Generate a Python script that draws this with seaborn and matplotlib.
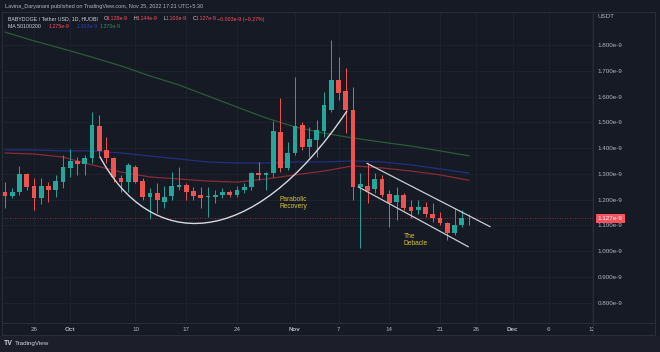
import numpy as np
import pandas as pd
import seaborn as sns
import matplotlib.pyplot as plt
import matplotlib.dates as mdates
from matplotlib.path import Path
from matplotlib.patches import PathPatch, Rectangle
from matplotlib.lines import Line2D
from matplotlib.transforms import Bbox, TransformedBbox, blended_transform_factory

# daily candles, BABYDOGE/USDT, prices in 1e-9 USDT
dates = pd.date_range("2022-09-22", "2022-11-25", freq="D")
opens = [1.228, 1.215, 1.228, 1.298, 1.253, 1.205, 1.253, 1.237, 1.270, 1.324,
         1.350, 1.337, 1.360, 1.486, 1.393, 1.360, 1.283, 1.270, 1.328, 1.274,
         1.209, 1.224, 1.192, 1.214, 1.250, 1.257, 1.233, 1.218, 1.209, 1.211,
         1.218, 1.228, 1.218, 1.237, 1.250, 1.302, 1.297, 1.302, 1.461, 1.322,
         1.380, 1.490, 1.403, 1.431, 1.468, 1.548, 1.664, 1.623, 1.548, 1.248,
         1.253, 1.240, 1.279, 1.220, 1.192, 1.218, 1.170, 1.159, 1.172, 1.146,
         1.127, 1.108, 1.072, 1.102, 1.128]
highs = [1.267, 1.244, 1.331, 1.305, 1.283, 1.283, 1.270, 1.296, 1.373, 1.395,
         1.367, 1.373, 1.541, 1.528, 1.444, 1.367, 1.296, 1.341, 1.335, 1.283,
         1.244, 1.266, 1.253, 1.309, 1.326, 1.263, 1.250, 1.250, 1.250, 1.237,
         1.244, 1.237, 1.253, 1.263, 1.309, 1.347, 1.309, 1.506, 1.593, 1.424,
         1.677, 1.502, 1.483, 1.509, 1.618, 1.819, 1.755, 1.710, 1.638, 1.302,
         1.341, 1.302, 1.296, 1.237, 1.250, 1.224, 1.198, 1.198, 1.192, 1.185,
         1.153, 1.114, 1.166, 1.159, 1.144]
lows = [1.166, 1.205, 1.218, 1.237, 1.159, 1.183, 1.192, 1.211, 1.244, 1.289,
        1.296, 1.296, 1.341, 1.367, 1.341, 1.270, 1.231, 1.231, 1.263, 1.198,
        1.123, 1.149, 1.166, 1.198, 1.237, 1.198, 1.198, 1.166, 1.133, 1.185,
        1.205, 1.209, 1.209, 1.224, 1.237, 1.276, 1.237, 1.289, 1.309, 1.315,
        1.373, 1.393, 1.367, 1.367, 1.444, 1.541, 1.587, 1.457, 1.198, 1.011,
        1.185, 1.224, 1.211, 1.095, 1.121, 1.159, 1.127, 1.146, 1.133, 1.114,
        1.102, 1.043, 1.063, 1.095, 1.100]
closes = [1.215, 1.228, 1.298, 1.250, 1.205, 1.253, 1.237, 1.272, 1.328, 1.350,
          1.337, 1.360, 1.490, 1.390, 1.360, 1.289, 1.267, 1.333, 1.267, 1.209,
          1.224, 1.198, 1.211, 1.253, 1.257, 1.231, 1.215, 1.205, 1.214, 1.218,
          1.231, 1.218, 1.237, 1.250, 1.302, 1.295, 1.305, 1.467, 1.322, 1.380,
          1.487, 1.403, 1.434, 1.470, 1.567, 1.664, 1.613, 1.548, 1.248, 1.261,
          1.235, 1.280, 1.218, 1.185, 1.218, 1.168, 1.157, 1.172, 1.144, 1.127,
          1.108, 1.072, 1.102, 1.129, 1.127]

# moving averages read every 4 days
ma_dates = pd.date_range("2022-09-22", "2022-11-25", freq="4D")
ma50 = [1.381, 1.377, 1.365, 1.335, 1.307, 1.288, 1.280, 1.272, 1.268,
        1.280, 1.296, 1.311, 1.331, 1.323, 1.311, 1.296, 1.275]
ma100 = [1.393, 1.393, 1.389, 1.389, 1.381, 1.369, 1.358, 1.346, 1.342,
         1.342, 1.346, 1.346, 1.350, 1.346, 1.335, 1.319, 1.303]
ma200 = [1.850, 1.816, 1.785, 1.753, 1.719, 1.680, 1.645, 1.602, 1.559,
         1.517, 1.482, 1.458, 1.439, 1.423, 1.408, 1.389, 1.370]

price_ticks = [0.8, 0.9, 1.0, 1.1, 1.2, 1.3, 1.4, 1.5, 1.6, 1.7, 1.8]
tick_dates = ["2022-09-26", "2022-10-01", "2022-10-10", "2022-10-17", "2022-10-24",
              "2022-11-01", "2022-11-07", "2022-11-14", "2022-11-21", "2022-11-26",
              "2022-12-01", "2022-12-06", "2022-12-12"]
tick_labels = ["26", "Oct", "10", "17", "24", "Nov", "7", "14", "21", "26",
               "Dec", "6", "12"]
last_price = 1.127

# drawings (date, price)
curve_pts = [("2022-10-05 02:00", 1.367), ("2022-10-12 00:00", 1.005),
             ("2022-10-25 19:00", 0.985), ("2022-11-08 04:00", 1.544)]
channel_top = [("2022-11-10 22:00", 1.341), ("2022-11-27 22:00", 1.095)]
channel_bottom = [("2022-11-09 17:00", 1.250), ("2022-11-24 22:00", 1.017)]

BG = '#161a25'
GRID = '#1f2330'
BORDER = '#2a2e39'
TXT = '#b2b5be'
UP = '#26a69a'
DOWN = '#ef5350'
YEL = '#d8c43c'

sns.set_theme(style="dark", rc={"axes.facecolor": BG, "figure.facecolor": BG})
plt.rcParams['font.family'] = ['Liberation Sans', 'DejaVu Sans']

W, H = 660, 352
fig = plt.figure(figsize=(6.6, 3.52), dpi=100)
ax = fig.add_axes([2 / W, 1 - 322.7 / H, 591 / W, (322.7 - 12) / H])
ax.set_facecolor(BG)


def px(x, y):
    return x / W, 1 - y / H


def num(s):
    return mdates.date2num(pd.Timestamp(s))


# candles
x = mdates.date2num(dates)
o, h, l, c = map(np.array, (opens, highs, lows, closes))
cols = np.where(c >= o, UP, DOWN)
ax.vlines(x, l, h, colors=cols, lw=0.7, zorder=3)
ax.bar(x, np.maximum(np.abs(c - o), 0.003), bottom=np.minimum(o, c),
       width=0.64, color=cols, lw=0, zorder=4)

# moving averages
mx = mdates.date2num(ma_dates)
sns.lineplot(x=mx, y=ma50, ax=ax, color='#8a2a35', lw=0.9, zorder=2)
sns.lineplot(x=mx, y=ma100, ax=ax, color='#22307f', lw=0.9, zorder=2)
sns.lineplot(x=mx, y=ma200, ax=ax, color='#2c5a38', lw=0.9, zorder=2)

# last price line
ax.axhline(last_price, color='#f7525f', lw=0.6, ls=(0, (1, 2)), alpha=0.6, zorder=1)

# drawings
verts = [(num(d), p) for d, p in curve_pts]
curve = Path(verts, [Path.MOVETO, Path.CURVE4, Path.CURVE4, Path.CURVE4])
ax.add_patch(PathPatch(curve, fc='none', ec='#d6d8de', lw=1.0, zorder=5))
for seg in (channel_top, channel_bottom):
    ax.plot([num(d) for d, _ in seg], [p for _, p in seg],
            color='#c9ccd3', lw=0.9, zorder=5)
ax.text(num("2022-10-29 22:00"), 1.187, "Parabolic\nRecovery", color=YEL,
        fontsize=4.8, ha='left', va='center', linespacing=1.0, zorder=6)
ax.text(num("2022-11-16 00:00"), 1.045, "The\nDebacle", color=YEL,
        fontsize=4.8, ha='left', va='center', linespacing=1.0, zorder=6)

# axes
ax.set_xlim(num("2022-09-26") - 4.41, num("2022-09-26") + 77.1)
ax.set_ylim(0.7225, 1.928)
ax.set_xticks(mdates.date2num(pd.to_datetime(tick_dates)))
ax.set_xticklabels(tick_labels)
ax.yaxis.tick_right()
ax.set_yticks(price_ticks)
ax.set_yticklabels([f"{v:.3f}e-9" for v in price_ticks])
ax.tick_params(axis='both', length=0, labelsize=4.5, labelcolor=TXT)
ax.tick_params(axis='y', pad=3.4)
ax.tick_params(axis='x', pad=3.2)
ax.grid(True, color=GRID, lw=0.6)
ax.set_axisbelow(True)
for s in ax.spines.values():
    s.set_visible(False)
clip = TransformedBbox(Bbox([[0, 0], [593 / W, 1]]), fig.transFigure)
for lbl in ax.get_xticklabels():
    if lbl.get_text() in ("Oct", "Nov", "Dec"):
        lbl.set_fontweight('bold')
    lbl.set_clip_box(clip)
    lbl.set_clip_on(True)

# price tag
trans = blended_transform_factory(ax.transAxes, ax.transData)
ax.text(1.008, last_price, f"{last_price:.3f}e-9", transform=trans, ha='left',
        va='center', fontsize=4.5, color='white', clip_on=False, zorder=10,
        bbox=dict(boxstyle='square,pad=0.35', fc='#f7525f', ec='none'))

# bottom bar and borders
fig.patches.append(Rectangle((0, 0), 1, 1 - 335.5 / H, transform=fig.transFigure,
                             fc='#1c1f2a', ec='none', zorder=-1))
for (x0, y0, x1, y1) in [(2, 12, 655, 12), (2, 322.7, 655, 322.7), (2, 335, 655, 335),
                         (593, 12, 593, 335), (655, 12, 655, 335), (2, 12, 2, 335)]:
    a, b = px(x0, y0)
    cc, d = px(x1, y1)
    fig.add_artist(Line2D([a, cc], [b, d], color=BORDER, lw=0.7))

# header legend
fs = 3.8
fig.text(*px(5, 6.5), "Lavina_Daryanani published on TradingView.com, Nov 25, 2022 17:21 UTC+5:30",
         color=TXT, fontsize=4.0, va='center')
pieces = [(8, "BABYDOGE / Tether USD, 1D, HUOBI", '#d1d4dc'),
          (104, "O", '#d1d4dc'), (106.8, "1.128e-9", '#f7525f'),
          (133.3, "H", '#d1d4dc'), (136.2, "1.144e-9", '#f7525f'),
          (163.3, "L", '#d1d4dc'), (165.8, "1.100e-9", '#f7525f'),
          (192.7, "C", '#d1d4dc'), (195.6, "1.127e-9", '#f7525f'),
          (217, "−0.003e-9 (−0.27%)", '#f7525f')]
for xp, t, col in pieces:
    fig.text(*px(xp, 19), t, color=col, fontsize=fs, va='center')
for xp, t, col in [(8, "MA 50100200", '#d1d4dc'), (48.3, "1.275e-9", '#f7525f'),
                   (77, "1.303e-9", '#2f3fb0'), (99.3, "1.370e-9", '#3c8a4c')]:
    fig.text(*px(xp, 26), t, color=col, fontsize=fs, va='center')
fig.text(*px(597.5, 17), "USDT", color=TXT, fontsize=4.5, va='center')
fig.text(*px(4, 343.5), "TV", color='#d1d4dc', fontsize=5, fontweight='bold', va='center')
fig.text(*px(15, 343.5), "TradingView", color='#d1d4dc', fontsize=4.5, va='center')

fig.savefig("out.png", dpi=100, facecolor=BG)
